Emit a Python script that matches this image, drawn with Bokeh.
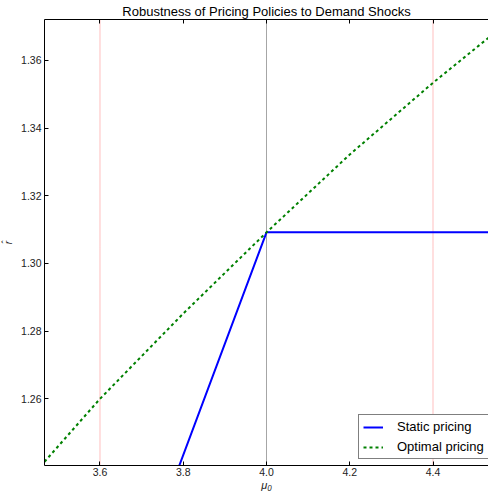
from bokeh.plotting import figure
from bokeh.models import Range1d, FixedTicker, LinearAxis, Span, PrintfTickFormatter
from bokeh.embed import file_html
from bokeh.resources import INLINE

# ---- data ----
mu_static = [3.7, 4.0, 4.5333]
r_static = [1.2105, 1.3092, 1.3092]

mu_opt = [3.4667, 3.6, 3.8, 4.0, 4.2, 4.4, 4.5333]
r_opt = [1.2414, 1.2600, 1.2852, 1.3092, 1.3322, 1.3534, 1.3667]

ref_red = [3.6, 4.4]
ref_black = [4.0]

x_ticks = [3.6, 3.8, 4.0, 4.2, 4.4]
y_ticks = [1.26, 1.28, 1.30, 1.32, 1.34, 1.36]
x_lim = (3.4667, 4.5333)
y_lim = (1.2403, 1.3721)

title_text = "Robustness of Pricing Policies to Demand Shocks"
series_names = ["Static pricing", "Optimal pricing"]

FONT = "Liberation Sans"
W, H = 488, 493
BL, BR, BT, BB = 44, 0, 19, 28

p = figure(width=W, height=H, x_range=Range1d(*x_lim), y_range=Range1d(*y_lim),
           output_backend="svg", toolbar_location=None,
           min_border_left=BL, min_border_right=BR, min_border_top=BT, min_border_bottom=BB)
p.xgrid.visible = False
p.ygrid.visible = False
p.outline_line_color = None
p.background_fill_color = "white"

p.title.text = title_text
p.title.align = "center"
p.title.text_font = FONT
p.title.text_font_size = "13px"
p.title.text_font_style = "normal"
p.title.text_color = "black"
p.title.standoff = 2

def style_axis(ax, ticks, fmt, font_size):
    ax.ticker = FixedTicker(ticks=ticks)
    ax.formatter = PrintfTickFormatter(format=fmt)
    ax.major_tick_in = 4
    ax.major_tick_out = 0
    ax.minor_tick_line_color = None
    ax.axis_line_color = "black"
    ax.major_tick_line_color = "black"
    ax.major_label_text_font = FONT
    ax.major_label_text_font_size = font_size
    ax.major_label_text_color = "#222222"

style_axis(p.xaxis[0], x_ticks, "%.1f", "10.5px")
p.xaxis[0].major_label_standoff = 2
p.xaxis[0].axis_label = "μ₀"
p.xaxis[0].axis_label_standoff = 0
p.xaxis[0].axis_label_text_font = FONT
p.xaxis[0].axis_label_text_font_size = "11px"
p.xaxis[0].axis_label_text_color = "#222222"

style_axis(p.yaxis[0], y_ticks, "%.2f", "10.5px")
p.yaxis[0].major_label_standoff = 3
p.yaxis[0].axis_label = "r̂"
p.yaxis[0].axis_label_standoff = 4
p.yaxis[0].axis_label_text_font = FONT
p.yaxis[0].axis_label_text_font_size = "10px"
p.yaxis[0].axis_label_text_color = "#222222"

top = LinearAxis()
style_axis(top, x_ticks, "%.1f", "0px")
top.major_label_standoff = 0
top.major_label_text_color = None
p.add_layout(top, "above")

for loc in ref_red:
    p.add_layout(Span(location=loc, dimension="height", line_color="red", line_alpha=0.5,
                      line_dash="1 1", line_width=1, level="underlay"))
for loc in ref_black:
    p.add_layout(Span(location=loc, dimension="height", line_color="black", line_alpha=0.7,
                      line_dash="1 1", line_width=1, level="underlay"))

p.line(mu_static, r_static, line_color="blue", line_width=2, legend_label=series_names[0])
p.line(mu_opt, r_opt, line_color="green", line_width=2, line_dash="3 3", legend_label=series_names[1])

lg = p.legend[0]
lg.location = (314, 6)
lg.margin = 0
lg.padding = 4
lg.spacing = 5
lg.label_height = 14
lg.glyph_height = 14
lg.glyph_width = 20
lg.label_standoff = 14
lg.border_line_color = "black"
lg.border_line_width = 1
lg.background_fill_color = "white"
lg.background_fill_alpha = 1
lg.label_text_font = FONT
lg.label_text_font_size = "13px"
lg.label_text_color = "black"

open("out.html", "w").write(file_html(p, INLINE))
